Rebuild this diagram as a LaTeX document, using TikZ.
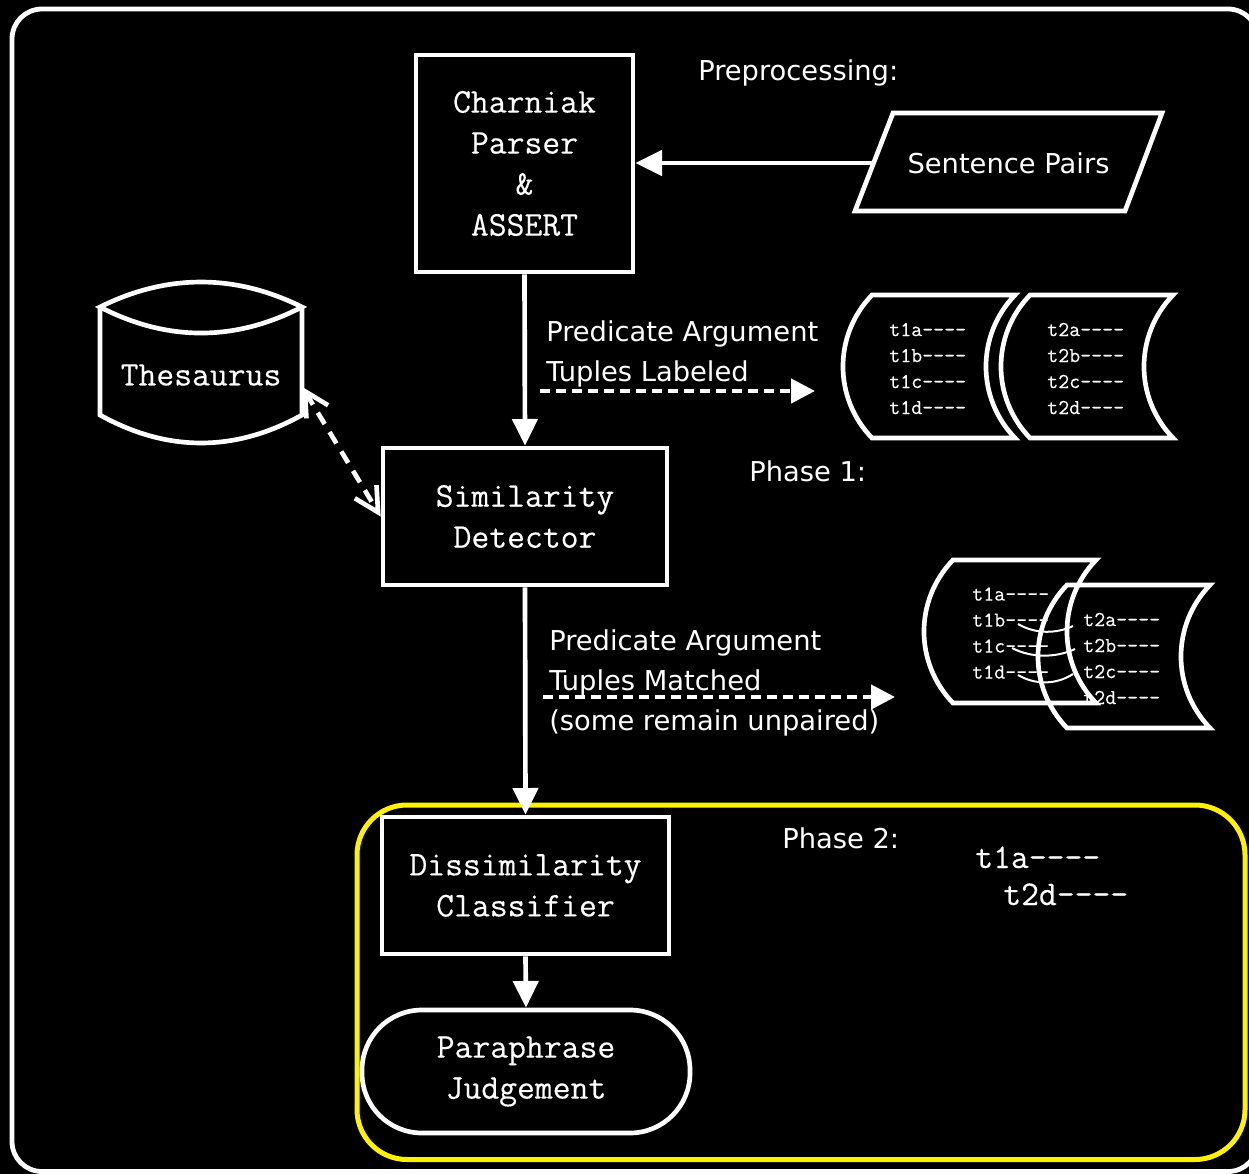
\documentclass[tikz,border=0pt]{standalone}
\usepackage{fontspec}
\setsansfont{DejaVu Sans}
\newfontfamily\dgMonoFace[FakeBold=0.3]{Latin Modern Mono}
\usetikzlibrary{arrows.meta}

\newcommand\dgBigMono{\fontsize{26}{30.75}\selectfont\dgMonoFace}
\newcommand\dgSmallMono{\fontsize{16}{19.5}\selectfont\dgMonoFace}
\newcommand\dgSans{\fontsize{20.5}{30}\selectfont\sffamily}

\tikzset{
  wline/.style={draw=white, line width=3.5pt},
  procbox/.style={wline, rectangle, inner sep=0pt, align=center, text=white, font=\dgBigMono},
  lab/.style={inner sep=0pt, align=left, text=white, font=\dgSans},
  bigtxt/.style={inner sep=0pt, align=left, text=white, font=\dgBigMono},
  doctext/.style={inner sep=0pt, align=left, text=white, font=\dgSmallMono},
  solidhead/.style={-{Triangle[length=20pt,width=18.75pt]}},
  dashhead/.style={dash pattern=on 7.5pt off 4.5pt, -{Triangle[length=18pt,width=18pt]}},
  tupdoc/.pic={
    \draw[wline] (0,0) -- (143,0)
      .. controls (104.3,40) and (104.3,103) .. (143,143) -- (0,143)
      .. controls (-38.7,103) and (-38.7,40) .. (0,0) -- cycle;
  }
}

\begin{document}
\begin{tikzpicture}[x=0.75pt, y=-0.75pt]
  % canvas and outer frame
  \path[use as bounding box, fill=black] (0,0) rectangle (1249,1174);
  \draw[white, line width=3.6pt, rounded corners=22.5pt] (12,9) rectangle (1258,1171.5);

  % phase 2 region
  \draw[yellow, line width=3.75pt, rounded corners=37.5pt] (357,805) rectangle (1245,1159.5);

  % processing steps
  \node[procbox, minimum width=162.75pt, minimum height=162.75pt] (charn) at (524.5,163.5)
    {Charniak\\Parser\\\&\\ASSERT};
  \node[procbox, minimum width=213pt, minimum height=102.75pt] (sim) at (525,516.5)
    {Similarity\\Detector};
  \node[procbox, minimum width=215.25pt, minimum height=102.75pt] (dis) at (525.5,885.5)
    {Dissimilarity\\Classifier};
  \node[procbox, rounded corners=45pt, minimum width=246pt, minimum height=92.25pt] (para) at (526,1071.5)
    {Paraphrase\\Judgement};

  % input data: parallelogram outline around its label
  \draw[wline, line join=miter] (893,113) -- (1162,113) -- (1125,211) -- (855,211) -- cycle;
  \node[inner sep=0pt, minimum width=201.75pt, text=white, font=\dgSans] (sp) at (1008.5,163) {Sentence Pairs};

  % thesaurus store
  \draw[wline] (100,307) .. controls (167,273.7) and (235,273.7) .. (302,307)
               .. controls (235,341.7) and (167,341.7) .. (100,307) -- cycle;
  \draw[wline] (100,307) -- (100,415) .. controls (167,452.3) and (235,452.3) .. (302,415) -- (302,307);
  \node[bigtxt, minimum width=151.5pt, align=center] (thes) at (201,375) {Thesaurus};

  % labels
  \node[lab, anchor=base west] (pre) at (698,80) {Preprocessing:};
  \node[lab, anchor=base west] (ph1) at (749,481) {Phase 1:};
  \node[lab, anchor=base west] (ph2) at (782,848) {Phase 2:};
  \node[lab, anchor=west] (lab1) at (546,354) {Predicate Argument\\Tuples Labeled};
  \node[lab, anchor=west] (lab2) at (549,682.5) {Predicate Argument\\Tuples Matched\\(some remain unpaired)};

  % labeled tuples
  \pic at (872,295) {tupdoc};
  \pic at (1030,295) {tupdoc};
  \node[doctext, anchor=west] (la) at (889,368.5) {t1a----\\t1b----\\t1c----\\t1d----};
  \node[doctext, anchor=west] (lb) at (1047,368.5) {t2a----\\t2b----\\t2c----\\t2d----};

  % matched tuples
  \pic at (953,560) {tupdoc};
  \pic at (1067,585) {tupdoc};
  \node[doctext, anchor=west] (ma) at (972,633) {t1a----\\t1b----\\t1c----\\t1d----};
  \node[doctext, anchor=west] (mb) at (1083,658.5) {t2a----\\t2b----\\t2c----\\t2d----};
  \draw[white, line width=1.5pt] (1018,624) .. controls (1035,634) and (1056,634) .. (1073,626);
  \draw[white, line width=1.5pt] (1012,648) .. controls (1031,658) and (1056,658) .. (1075,649);
  \draw[white, line width=1.5pt] (1018,675) .. controls (1035,685) and (1056,685) .. (1073,674);

  % unpaired tuples
  \node[bigtxt, anchor=base west] (u1) at (975,868) {t1a----};
  \node[bigtxt, anchor=base west] (u2) at (1003,905) {t2d----};

  % flow
  \draw[wline, solidhead] (sp.west) -- (charn.east |- sp.west);
  \draw[wline, solidhead] (charn.south) -- (sim.north);
  \draw[wline, solidhead] (sim.south) -- (dis.north);
  \draw[wline, solidhead] (dis.south) -- (para.north);
  \draw[wline, dash pattern=on 10pt off 7pt,
        {Straight Barb[length=18pt,width=19pt]}-{Straight Barb[length=18pt,width=19pt]}]
        ([yshift=-9pt]thes.east) -- (sim.west);

  \coordinate (d1a) at (540,391);
  \coordinate (d1b) at (815,391);
  \coordinate (d2a) at (543,697);
  \coordinate (d2b) at (895,697);
  \draw[wline, dashhead] (d1a) -- (d1b);
  \draw[wline, dashhead] (d2a) -- (d2b);
\end{tikzpicture}
\end{document}
